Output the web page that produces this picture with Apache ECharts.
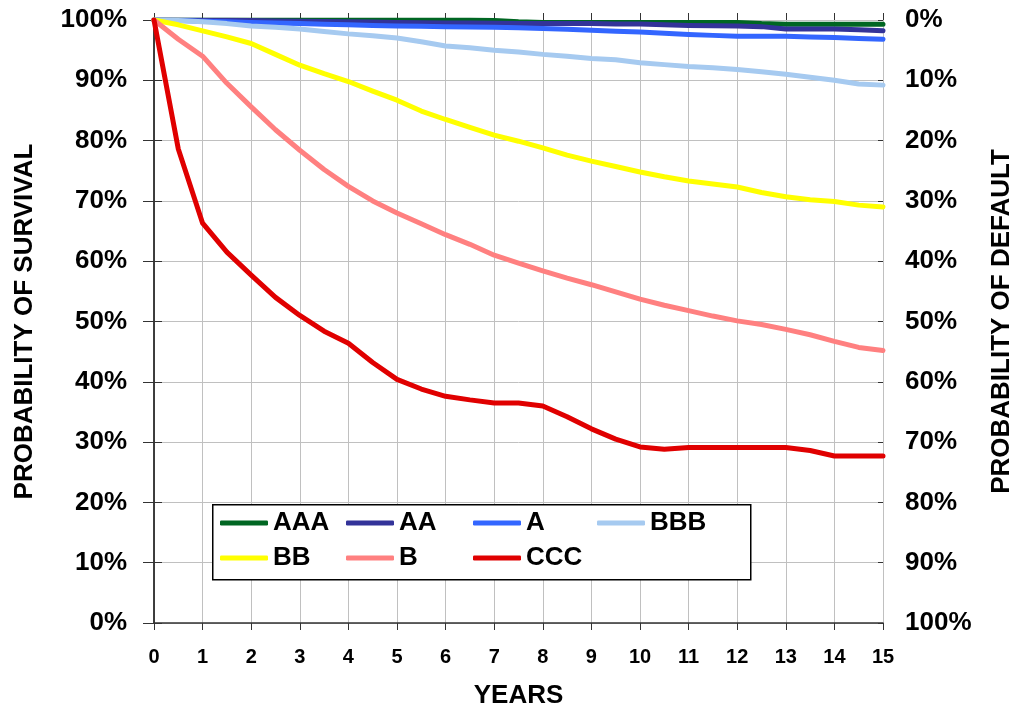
<!DOCTYPE html>
<html>
<head>
<meta charset="utf-8">
<script src="https://cdn.jsdelivr.net/npm/echarts@6/dist/echarts.min.js"></script>
<style>
html,body{margin:0;padding:0;background:#fff;}
#chart{width:1023px;height:715px;}
</style>
</head>
<body>
<div id="chart"></div>
<script>
// ---- Data (probability of survival, %) ----
const years = [0,0.5,1,1.5,2,2.5,3,3.5,4,4.5,5,5.5,6,6.5,7,7.5,8,8.5,9,9.5,10,10.5,11,11.5,12,12.5,13,13.5,14,14.5,15];
const seriesNames = ['AAA','AA','A','BBB','BB','B','CCC'];
const aaa = [100,100,100,100,100,100,100,100,100,100,100,100,100,100,99.9,99.7,99.6,99.6,99.6,99.6,99.6,99.6,99.6,99.6,99.6,99.4,99.3,99.3,99.3,99.3,99.3];
const aa  = [100,100,99.95,99.95,99.9,99.85,99.8,99.75,99.7,99.65,99.6,99.55,99.5,99.5,99.45,99.4,99.4,99.4,99.4,99.35,99.35,99.2,99.1,99.05,99.0,98.9,98.5,98.5,98.5,98.4,98.2];
const a   = [100,99.9,99.8,99.7,99.6,99.5,99.4,99.3,99.2,99.1,99.0,98.95,98.9,98.85,98.8,98.7,98.6,98.45,98.3,98.15,98.0,97.8,97.6,97.45,97.3,97.3,97.3,97.2,97.1,96.95,96.8];
const bbb = [100,99.9,99.7,99.4,99.0,98.8,98.5,98.1,97.7,97.4,97.0,96.4,95.7,95.4,95.0,94.7,94.3,94.0,93.6,93.4,92.9,92.6,92.3,92.1,91.8,91.4,91.0,90.5,90.0,89.4,89.2];
const bb  = [100,99.2,98.2,97.2,96.1,94.3,92.5,91.1,89.8,88.2,86.7,84.9,83.5,82.2,80.9,79.9,78.8,77.6,76.6,75.7,74.8,74.0,73.3,72.8,72.3,71.4,70.7,70.2,69.9,69.3,69.0];
const b   = [100,96.8,94,89.5,85.6,81.8,78.4,75.2,72.4,70,68,66.2,64.4,62.8,61,59.7,58.4,57.2,56.1,54.9,53.7,52.7,51.8,50.9,50.1,49.5,48.7,47.8,46.7,45.7,45.2];
const ccc = [100,78.6,66.3,61.5,57.7,54,51,48.4,46.4,43.2,40.4,38.8,37.6,37,36.5,36.5,36,34.2,32.2,30.5,29.2,28.8,29.1,29.1,29.1,29.1,29.1,28.6,27.7,27.7,27.7];
const seriesValues = [aaa, aa, a, bbb, bb, b, ccc];
const colors = ['#006622','#333399','#3366FF','#A6CAF0','#FFFF00','#FF8080','#E00000'];

// Legend layout: [left, top] of each item
const legendPos = [[220,510],[346,510],[473,510],[597,510],[220,545],[346,545],[473,545]];

const FONT = '"Liberation Sans", Arial, sans-serif';
const chart = echarts.init(document.getElementById('chart'), null, {renderer:'canvas'});

const axisLineStyle = {color:'#333', width:1.5};
const labelFont = {fontFamily:FONT, fontWeight:'bold', color:'#000'};

const series = seriesNames.map((n,i)=>({
  name:n, type:'line', xAxisIndex:0, yAxisIndex:0,
  data: years.map((t,k)=>[t, seriesValues[i][k]]),
  showSymbol:false, symbol:'none', smooth:false,
  color: colors[i],
  lineStyle:{color:colors[i], width:5, cap:'round', join:'round'},
  itemStyle:{color:colors[i]},
  z: 2 + i*0.01,
  animation:false
}));

const legends = seriesNames.map((n,i)=>({
  data:[n], left:legendPos[i][0], top:legendPos[i][1], orient:'horizontal',
  padding:0, itemGap:0, itemWidth:48, itemHeight:5, icon:'roundRect',
  textStyle:{fontFamily:FONT, fontWeight:'bold', fontSize:26, color:'#000', padding:[0,0,0,0]},
  selectedMode:false, z:6
}));

chart.setOption({
  backgroundColor:'#fff',
  animation:false,
  grid:{left:154, right:138, top:20, bottom:92, containLabel:false},
  legend: legends,
  graphic:[{
    type:'rect', left:212, top:504, z:5,
    shape:{width:538, height:75},
    style:{fill:'#fff', stroke:'#000', lineWidth:1.5}
  }],
  xAxis:[{
    type:'value', min:0, max:15, interval:1, position:'bottom',
    name:'YEARS', nameLocation:'middle', nameGap:60,
    nameTextStyle:{fontFamily:FONT, fontWeight:'bold', fontSize:26, color:'#000'},
    axisLine:{show:true, lineStyle:axisLineStyle},
    axisTick:{show:true, length:7, inside:false, lineStyle:{color:'#333', width:1}},
    axisLabel:Object.assign({fontSize:20, margin:24}, labelFont),
    splitLine:{show:true, lineStyle:{color:'#c0c0c0', width:1}}
  },{
    type:'value', min:0, max:15, interval:1, position:'bottom',
    axisLine:{show:false}, axisLabel:{show:false}, splitLine:{show:false},
    axisTick:{show:true, length:7, inside:true, lineStyle:{color:'#333', width:1}}
  }],
  yAxis:[{
    type:'value', min:0, max:100, interval:10, position:'left',
    name:'PROBABILITY OF SURVIVAL', nameLocation:'middle', nameRotate:90, nameGap:116,
    nameTextStyle:{fontFamily:FONT, fontWeight:'bold', fontSize:26, color:'#000'},
    axisLine:{show:true, lineStyle:axisLineStyle},
    axisTick:{show:true, length:11, inside:false, lineStyle:{color:'#333', width:1}},
    axisLabel:Object.assign({fontSize:26, margin:27, formatter:'{value}%'}, labelFont),
    splitLine:{show:true, lineStyle:{color:'#c0c0c0', width:1}}
  },{
    type:'value', min:0, max:100, interval:10, position:'right', inverse:true,
    name:'PROBABILITY OF DEFAULT', nameLocation:'middle', nameRotate:90, nameGap:106,
    nameTextStyle:{fontFamily:FONT, fontWeight:'bold', fontSize:26, color:'#000'},
    axisLine:{show:true, lineStyle:axisLineStyle},
    axisTick:{show:true, length:8, inside:false, lineStyle:{color:'#333', width:1}},
    axisLabel:Object.assign({fontSize:26, margin:22, formatter:'{value}%'}, labelFont),
    splitLine:{show:false}
  },{
    type:'value', min:0, max:100, interval:10, position:'left',
    axisLine:{show:false}, axisLabel:{show:false}, splitLine:{show:false},
    axisTick:{show:true, length:8, inside:true, lineStyle:{color:'#333', width:1}}
  },{
    type:'value', min:0, max:100, interval:10, position:'right',
    axisLine:{show:false}, axisLabel:{show:false}, splitLine:{show:false},
    axisTick:{show:true, length:5, inside:true, lineStyle:{color:'#333', width:1}}
  }],
  series: series
});
</script>
</body>
</html>
